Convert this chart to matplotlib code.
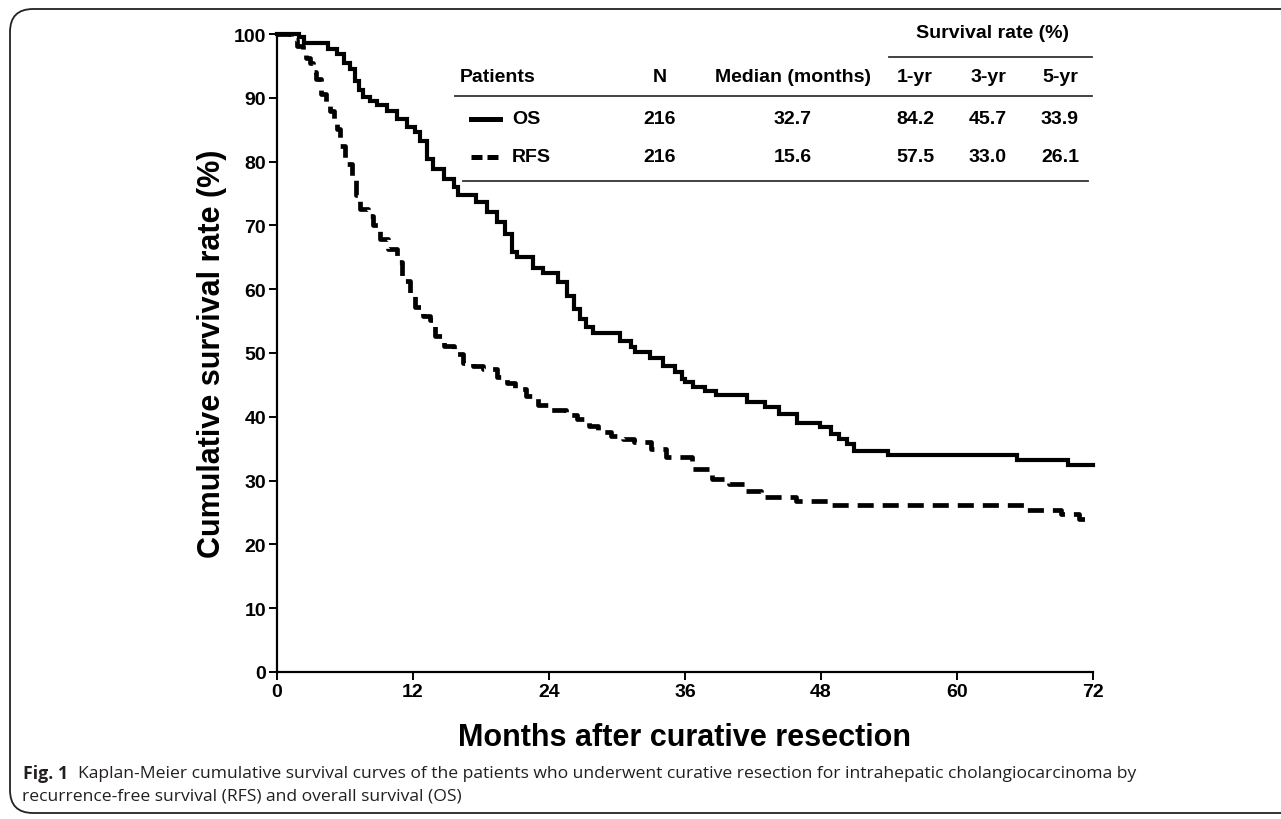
import matplotlib.pyplot as plt
from matplotlib.lines import Line2D
from matplotlib.patches import FancyBboxPatch

# Kaplan-Meier steps (months, survival %)
os_time = [0, 1.9, 2.4, 4.5, 5.3, 5.9, 6.4, 6.9, 7.2, 7.6, 8.2, 8.8, 9.7, 10.6,
           11.5, 12.2, 12.6, 13.2, 13.8, 14.7, 15.6, 16.0, 17.6, 18.5, 19.4,
           20.1, 20.7, 21.2, 22.6, 23.5, 24.8, 25.6, 26.2, 26.7, 27.3, 27.9,
           30.3, 31.2, 31.6, 32.9, 34.1, 35.1, 35.7, 36.0, 36.7, 37.8, 38.7,
           41.5, 43.1, 44.3, 45.9, 47.9, 48.9, 49.6, 50.3, 50.9, 53.9, 65.3,
           69.8, 72]
os_surv = [100, 99.5, 98.6, 97.7, 96.8, 95.4, 94.5, 92.6, 91.2, 90.1, 89.5,
           88.8, 88.0, 86.7, 85.4, 84.6, 83.3, 80.4, 78.8, 77.3, 76.0, 74.7,
           73.6, 72.1, 70.5, 68.7, 65.8, 65.0, 63.4, 62.6, 61.1, 59.0, 56.9,
           55.3, 54.0, 53.2, 51.9, 50.9, 50.2, 49.2, 48.0, 47.0, 45.9, 45.4,
           44.6, 44.1, 43.4, 42.3, 41.5, 40.4, 39.1, 38.4, 37.3, 36.5, 35.7,
           34.7, 34.0, 33.2, 32.5, 32.5]

rfs_time = [0, 1.2, 1.8, 2.3, 2.6, 2.9, 3.2, 3.4, 3.9, 4.3, 4.7, 5.0, 5.3, 5.6,
            6.0, 6.6, 7.0, 7.3, 8.0, 8.5, 9.1, 9.8, 10.6, 11.0, 11.3, 11.7,
            12.2, 12.9, 13.5, 13.9, 14.7, 15.6, 16.4, 17.3, 18.2, 19.4, 20.3,
            21.0, 22.0, 23.0, 24.0, 25.5, 26.5, 27.5, 28.3, 29.5, 30.5, 31.5,
            33.0, 34.3, 36.6, 38.4, 39.9, 41.3, 42.7, 45.8, 49.0, 66.2, 69.2,
            70.8, 72]
rfs_surv = [100, 99.1, 98.1, 97.2, 96.3, 95.4, 94.0, 93.0, 90.6, 89.2, 88.0,
            86.5, 85.1, 82.5, 79.6, 77.8, 74.7, 72.5, 71.5, 70.0, 67.9, 66.3,
            64.2, 61.9, 61.3, 59.0, 57.2, 55.8, 55.1, 52.7, 51.1, 49.8, 48.5,
            48.0, 47.5, 46.2, 45.3, 44.3, 43.2, 41.8, 41.0, 40.3, 39.6, 38.5,
            37.6, 37.0, 36.5, 36.0, 35.0, 33.7, 31.8, 30.3, 29.5, 28.4, 27.4,
            26.8, 26.2, 25.4, 24.8, 24.0, 24.0]

# summary table
col_heads = ["Patients", "N", "Median (months)", "1-yr", "3-yr", "5-yr"]
groups = ["OS", "RFS"]
n_pat = ["216", "216"]
medians = ["32.7", "15.6"]
rate_1yr = ["84.2", "57.5"]
rate_3yr = ["45.7", "33.0"]
rate_5yr = ["33.9", "26.1"]

W, H = 1281, 820
plt.rcParams['font.family'] = ['Liberation Sans', 'DejaVu Sans']

fig = plt.figure(figsize=(W / 100, H / 100), dpi=100)


def fx(x):
    return x / W


def fy(y):
    return 1 - y / H


ax = fig.add_axes([fx(277), fy(673), fx(1093) - fx(277), fy(35) - fy(673)])
ax.step(os_time, os_surv, where='post', color='black', lw=3.0,
        solid_joinstyle='miter', clip_on=False)
ax.step(rfs_time, rfs_surv, where='post', color='black', lw=3.4,
        linestyle=(0, (3.4, 1.9)), dash_capstyle='butt', clip_on=False)

ax.set_xlim(0, 72)
ax.set_ylim(0, 100)
ax.set_xticks(range(0, 73, 12))
ax.set_yticks(range(0, 101, 10))
for s in ['top', 'right']:
    ax.spines[s].set_visible(False)
for s in ['left', 'bottom']:
    ax.spines[s].set_linewidth(1.6)
ax.tick_params(direction='out', length=6, width=1.4, labelsize=14, pad=2)
for lab in ax.get_xticklabels() + ax.get_yticklabels():
    lab.set_fontweight('bold')
ax.set_xlabel("Months after curative resection", fontsize=22, fontweight='bold',
              labelpad=16)
ax.set_ylabel("Cumulative survival rate (%)", fontsize=22, fontweight='bold',
              labelpad=5)

# table inside the plot
tfs = 14
tw = 'bold'
fig.text(fx(992), fy(33), "Survival rate (%)", ha='center', va='center',
         fontsize=tfs, fontweight=tw)
fig.add_artist(Line2D([fx(889), fx(1092)], [fy(58), fy(58)], color='#333333', lw=1.3))
head_x = [460, 660, 793, 915, 988, 1060]
for i, h in enumerate(col_heads):
    fig.text(fx(head_x[i]), fy(77), h, ha='left' if i == 0 else 'center',
             va='center', fontsize=tfs, fontweight=tw)
fig.add_artist(Line2D([fx(455), fx(1092)], [fy(97), fy(97)], color='#333333', lw=1.3))
row_y = [120, 158]
styles = ['-', (0, (2.2, 1.0))]
for r, g in enumerate(groups):
    y = row_y[r]
    fig.add_artist(Line2D([fx(471), fx(500)], [fy(y), fy(y)], color='black',
                          lw=3.6, linestyle=styles[r], dash_capstyle='butt'))
    fig.text(fx(512), fy(y), g, ha='left', va='center', fontsize=tfs, fontweight=tw)
    vals = [n_pat[r], medians[r], rate_1yr[r], rate_3yr[r], rate_5yr[r]]
    for c, v in enumerate(vals):
        fig.text(fx(head_x[c + 1]), fy(y), v, ha='center', va='center',
                 fontsize=tfs, fontweight=tw)
fig.add_artist(Line2D([fx(463), fx(1088)], [fy(182), fy(182)], color='#333333', lw=1.3))

# caption and frame
cap_font = ['Open Sans', 'DejaVu Sans']
fig.text(fx(23), fy(774), "Fig. 1", ha='left', va='center', fontsize=12.8,
         fontweight='bold', family=cap_font, color='#231f20')
fig.text(fx(78), fy(774),
         "Kaplan-Meier cumulative survival curves of the patients who underwent "
         "curative resection for intrahepatic cholangiocarcinoma by",
         ha='left', va='center', fontsize=12.6, family=cap_font, color='#231f20')
fig.text(fx(22), fy(797), "recurrence-free survival (RFS) and overall survival (OS)",
         ha='left', va='center', fontsize=12.6, family=cap_font, color='#231f20')

frame = FancyBboxPatch((fx(10), fy(814)), fx(1320) - fx(10), fy(10) - fy(814),
                       boxstyle="round,pad=0,rounding_size=0.018",
                       transform=fig.transFigure, fill=False, ec='#222222',
                       lw=1.3, mutation_aspect=W / H)
fig.add_artist(frame)

fig.savefig("out.png", dpi=100)
